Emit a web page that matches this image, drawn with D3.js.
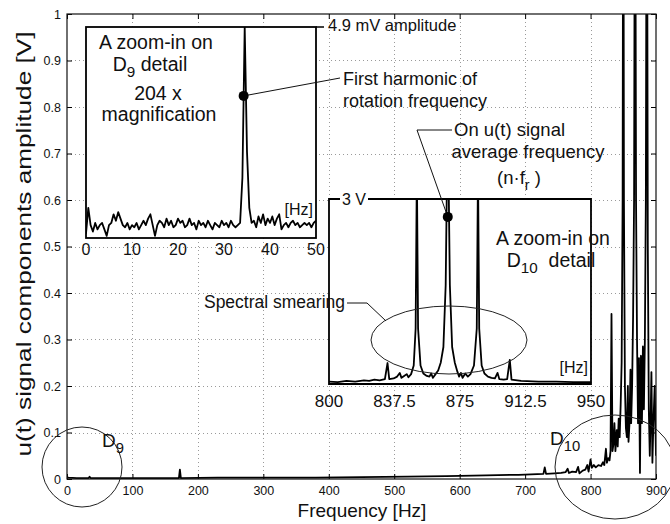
<!DOCTYPE html>
<html>
<head>
<meta charset="utf-8">
<script src="https://cdn.jsdelivr.net/npm/d3@7"></script>
<style>
  body { margin: 0; background: #fff; }
  svg { display: block; font-family: "Liberation Sans", Arial, Helvetica, sans-serif; }
  text { fill: #111; white-space: pre; }
</style>
</head>
<body>
<svg id="chart" width="670" height="524"></svg>
<script>
// ---------- main spectrum: 0 … 900 Hz ----------
const xTicks = [0, 100, 200, 300, 400, 500, 600, 700, 800, 900];
const xTickLabels = ["0", "100", "200", "300", "400", "500", "600", "700", "800", "900"];
const yTicks = [0, 0.1, 0.2, 0.3, 0.4, 0.5, 0.6, 0.7, 0.8, 0.9, 1];
const yTickLabels = ["0", "0.1", "0.2", "0.3", "0.4", "0.5", "0.6", "0.7", "0.8", "0.9", "1"];

const mainFreq = [0, 2, 15, 33, 34.5, 36, 60, 120, 171, 172.5, 174, 230, 300, 380, 450, 520, 580, 640, 690,
  728, 730, 732, 745, 755, 762, 765, 767, 772, 778, 781, 783, 788, 792, 795, 797, 800, 802, 805, 808, 812,
  816, 819, 821, 823.5, 825, 827, 829, 830.5, 832, 833.5, 835, 836.5, 838, 840, 841.5, 843, 844.5, 846,
  847.5, 849, 850, 851, 852.5, 854, 855.5, 857, 858, 859.5, 861, 862, 863.5, 865, 866.5, 868, 869.5, 871,
  872.5, 874, 875.5, 877, 878.5, 880, 881.5, 883, 884.5, 886, 887.5, 889, 890.5, 892, 893, 894.5, 896, 898, 900];
const mainAmp = [0.004, 0.003, 0.002, 0.002, 0.0049, 0.002, 0.002, 0.002, 0.002, 0.02, 0.002, 0.003, 0.003, 0.003,
  0.004, 0.005, 0.006, 0.008, 0.009, 0.011, 0.025, 0.011, 0.012, 0.013, 0.015, 0.022, 0.013, 0.016, 0.015,
  0.026, 0.012, 0.018, 0.02, 0.03, 0.016, 0.042, 0.024, 0.03, 0.025, 0.03, 0.028, 0.036, 0.03, 0.065, 0.035,
  0.045, 0.04, 0.06, 0.355, 0.06, 0.075, 0.12, 0.06, 0.105, 0.07, 0.13, 0.09, 0.16, 0.25, 0.6, 1.6, 0.6, 0.2,
  0.11, 0.09, 0.2, 0.08, 0.12, 0.235, 0.12, 0.2, 0.35, 0.6, 1.6, 0.6, 0.3, 0.12, 0.26, 0.013, 0.265, 0.12,
  0.285, 0.15, 0.3, 0.6, 1.6, 0.5, 0.15, 0.05, 0.15, 0.23, 0.035, 0.12, 0.2, 0.05];

// ---------- D9 detail: 0 … 50 Hz, amplitude in mV ----------
const d9Ticks = [0, 10, 20, 30, 40, 50];
const d9Freq = [0, 0.5, 1, 1.5, 2, 2.5, 3, 3.5, 4, 4.5, 5, 5.5, 6, 6.5, 7, 7.5, 8, 8.5, 9, 9.5,
  10, 10.5, 11, 11.5, 12, 12.5, 13, 13.5, 14, 14.5, 15, 15.5, 16, 16.5, 17, 17.5, 18, 18.5, 19, 19.5,
  20, 20.5, 21, 21.5, 22, 22.5, 23, 23.5, 24, 24.5, 25, 25.5, 26, 26.5, 27, 27.5, 28, 28.5, 29, 29.5,
  30, 30.5, 31, 31.5, 32, 32.5, 33, 33.5, 34, 34.5, 35, 35.5, 36, 36.5, 37, 37.5, 38, 38.5, 39, 39.5,
  40, 40.5, 41, 41.5, 42, 42.5, 43, 43.5, 44, 44.5, 45, 45.5, 46, 46.5, 47, 47.5, 48, 48.5, 49, 49.5, 50];
const d9Amp = [0.1, 0.7, 0.3, 0.15, 0.35, 0.2, 0.3, 0.35, 0.2, 0.05, 0.3, 0.35, 0.55, 0.4, 0.6, 0.45, 0.3, 0.25, 0.35, 0.2,
  0.3, 0.25, 0.35, 0.2, 0.3, 0.4, 0.3, 0.45, 0.55, 0.3, 0.05, 0.3, 0.4, 0.35, 0.25, 0.45, 0.3, 0.4, 0.25, 0.3,
  0.45, 0.35, 0.4, 0.25, 0.3, 0.45, 0.3, 0.35, 0.2, 0.4, 0.3, 0.35, 0.25, 0.4, 0.3, 0.2, 0.35, 0.3, 0.25, 0.4,
  0.3, 0.35, 0.25, 0.4, 0.3, 0.25, 0.3, 0.35, 1.4, 4.9, 2.0, 0.7, 0.35, 0.4, 0.25, 0.5, 0.35, 0.55, 0.3, 0.45,
  0.35, 0.5, 0.3, 0.45, 0.55, 0.2, 0.3, 0.35, 0.25, 0.35, 0.4, 0.3, 0.35, 0.25, 0.3, 0.35, 0.3, 0.35, 0.25, 0.35, 0.4];
const d9Top = 4.9;            // mV, top of the magnified window
const d9Marker = [34.27, 3.3]; // first harmonic of rotation frequency

// ---------- D10 detail: 800 … 950 Hz, amplitude in V ----------
const d10Ticks = [800, 837.5, 875, 912.5, 950];
const d10TickLabels = ["800", "837.5", "875", "912.5", "950"];
const d10Freq = [800, 805, 810, 815, 820, 823, 826, 829, 832, 833.5, 834.5, 837, 839, 840.5, 841.5, 843, 844.5,
  845.5, 847, 848.5, 849.6, 850.3, 851, 852.4, 854, 856, 857.5, 858.5, 859.5, 861, 862.5, 864, 865.5, 866.8,
  867.6, 868.4, 869.2, 870.5, 872, 873.5, 874.5, 875.5, 876.5, 878, 879.5, 881, 883, 884.6, 885.3, 886, 887.4,
  889, 891, 893, 895, 896.5, 897.5, 900, 902, 903.5, 904.5, 910, 920, 930, 940, 950];
const d10Amp = [0.04, 0.03, 0.05, 0.04, 0.06, 0.05, 0.07, 0.06, 0.08, 0.34, 0.08, 0.09, 0.12, 0.18, 0.1, 0.13, 0.16,
  0.11, 0.16, 0.3, 0.9, 3.5, 0.9, 0.3, 0.17, 0.13, 0.12, 0.17, 0.1, 0.16, 0.22, 0.35, 0.6, 1.6,
  3.5, 3.5, 1.6, 0.6, 0.35, 0.2, 0.12, 0.18, 0.1, 0.17, 0.12, 0.16, 0.3, 0.9, 3.5, 0.9, 0.3,
  0.17, 0.12, 0.1, 0.09, 0.18, 0.08, 0.07, 0.08, 0.39, 0.07, 0.05, 0.04, 0.04, 0.03, 0.03];
const d10Top = 3;              // V, top of the D10 window
const d10Marker = [868, 2.71]; // average frequency n·fr

const svg = d3.select("#chart");

// ---------- scales ----------
const x = d3.scaleLinear([0, 900], [67, 656]);
const y = d3.scaleLinear([0, 1], [479, 14]);

// ---------- grid ----------
const grid = svg.append("g").attr("stroke", "#9a9a9a").attr("stroke-width", 1).attr("stroke-dasharray", "1,3");
grid.selectAll("line.gx").data(xTicks.slice(1, -1)).join("line")
  .attr("x1", d => Math.round(x(d)) + 0.5).attr("x2", d => Math.round(x(d)) + 0.5)
  .attr("y1", y(0)).attr("y2", y(1));
grid.selectAll("line.gy").data(yTicks.slice(1, -1)).join("line")
  .attr("y1", d => Math.round(y(d)) + 0.5).attr("y2", d => Math.round(y(d)) + 0.5)
  .attr("x1", x(0)).attr("x2", x(900));

// ---------- main spectrum ----------
svg.append("clipPath").attr("id", "clipMain").append("rect")
  .attr("x", x(0)).attr("y", y(1)).attr("width", x(900) - x(0)).attr("height", y(0) - y(1));
const mainPts = mainFreq.map((f, i) => [f, mainAmp[i]]);
svg.append("path").datum(mainPts)
  .attr("clip-path", "url(#clipMain)")
  .attr("fill", "none").attr("stroke", "#000").attr("stroke-width", 1.8).attr("stroke-linejoin", "round")
  .attr("d", d3.line().x(d => x(d[0])).y(d => y(d[1])));

// ---------- axes (ticks point inward) ----------
function styleAxis(g, size) {
  g.select(".domain").remove();
  g.selectAll(".tick line").attr("stroke", "#000");
  g.selectAll("text").attr("font-size", size).attr("font-family", null).attr("fill", "#111");
}
svg.append("g").attr("transform", `translate(0,${y(0)})`)
  .call(d3.axisBottom(x).tickValues(xTicks).tickFormat((d, i) => xTickLabels[i]).tickSizeInner(-5).tickSizeOuter(0).tickPadding(7))
  .call(g => styleAxis(g, 12.5));
svg.append("g").attr("transform", `translate(0,${y(1)})`)
  .call(d3.axisTop(x).tickValues(xTicks).tickFormat("").tickSizeInner(-5).tickSizeOuter(0))
  .call(g => styleAxis(g, 12.5));
svg.append("g").attr("transform", `translate(${x(0)},0)`)
  .call(d3.axisLeft(y).tickValues(yTicks).tickFormat((d, i) => yTickLabels[i]).tickSizeInner(-5).tickSizeOuter(0).tickPadding(6))
  .call(g => styleAxis(g, 12.5));
svg.append("g").attr("transform", `translate(${x(900)},0)`)
  .call(d3.axisRight(y).tickValues(yTicks).tickFormat("").tickSizeInner(-5).tickSizeOuter(0))
  .call(g => styleAxis(g, 12.5));
svg.append("rect").attr("x", x(0)).attr("y", y(1)).attr("width", x(900) - x(0)).attr("height", y(0) - y(1))
  .attr("fill", "none").attr("stroke", "#111").attr("stroke-width", 1.2);

// axis titles
svg.append("text").attr("x", 362).attr("y", 517).attr("text-anchor", "middle").attr("font-size", 19)
  .text("Frequency [Hz]");
svg.append("text").attr("transform", "translate(31,244) rotate(-90)").attr("text-anchor", "middle")
  .attr("font-size", 20.5).attr("textLength", 425).attr("lengthAdjust", "spacingAndGlyphs")
  .text("u(t) signal components amplitude [V]");

// ---------- text helper with subscripts ----------
function richText(px, py, parts, size, anchor) {
  const t = svg.append("text").attr("x", px).attr("y", py).attr("font-size", size)
    .attr("text-anchor", anchor || "start");
  let shifted = false;
  parts.forEach(([s, sub]) => {
    const sp = t.append("tspan").text(s);
    if (sub && !shifted) { sp.attr("font-size", size * 0.78).attr("dy", size * 0.3); shifted = true; }
    else if (!sub && shifted) { sp.attr("dy", -size * 0.3); shifted = false; }
    else if (sub) sp.attr("font-size", size * 0.78);
  });
  return t;
}

// ---------- detail markers on the main axes ----------
svg.append("circle").attr("cx", 82).attr("cy", 467).attr("r", 40)
  .attr("fill", "none").attr("stroke", "#222").attr("stroke-width", 1);
richText(102, 447, [["D", false], ["9", true]], 19);
svg.append("ellipse").attr("cx", 615).attr("cy", 467).attr("rx", 60).attr("ry", 52)
  .attr("fill", "none").attr("stroke", "#222").attr("stroke-width", 1);
richText(550, 445, [["D", false], ["10", true]], 19);

// ---------- inset: D9 detail ----------
const xi9 = d3.scaleLinear([0, 50], [86, 316]);
const yi9 = d3.scaleLinear([0, d9Top], [238, 27]);
svg.append("rect").attr("x", 86).attr("y", 27).attr("width", 230).attr("height", 211)
  .attr("fill", "#fff").attr("stroke", "#000").attr("stroke-width", 1.8);
svg.append("line").attr("x1", 316).attr("x2", 324).attr("y1", 27).attr("y2", 27)
  .attr("stroke", "#000").attr("stroke-width", 1.5);
svg.append("clipPath").attr("id", "clip9").append("rect").attr("x", 86).attr("y", 27).attr("width", 230).attr("height", 211);
svg.append("path").datum(d9Freq.map((f, i) => [f, d9Amp[i]]))
  .attr("clip-path", "url(#clip9)")
  .attr("fill", "none").attr("stroke", "#000").attr("stroke-width", 1.8).attr("stroke-linejoin", "round")
  .attr("d", d3.line().x(d => xi9(d[0])).y(d => yi9(d[1])));
svg.append("g").selectAll("text").data(d9Ticks).join("text")
  .attr("x", d => xi9(d)).attr("y", 255).attr("text-anchor", "middle").attr("font-size", 16).text(d => d);
svg.append("text").attr("x", 313).attr("y", 215).attr("text-anchor", "end").attr("font-size", 16).text("[Hz]");
svg.append("text").attr("x", 156).attr("y", 49).attr("text-anchor", "middle").attr("font-size", 19.5).text("A zoom-in on");
richText(150, 71, [["D", false], ["9", true], [" detail", false]], 19.5, "middle");
svg.append("text").attr("x", 158).attr("y", 100).attr("text-anchor", "middle").attr("font-size", 19.5).text("204 x");
svg.append("text").attr("x", 159).attr("y", 121).attr("text-anchor", "middle").attr("font-size", 19.5).text("magnification");
svg.append("text").attr("x", 328).attr("y", 31).attr("font-size", 16.5).text("4.9 mV amplitude");

// first harmonic marker and leader
svg.append("line").attr("x1", xi9(d9Marker[0])).attr("y1", yi9(d9Marker[1])).attr("x2", 340).attr("y2", 78)
  .attr("stroke", "#111").attr("stroke-width", 1);
svg.append("circle").attr("cx", xi9(d9Marker[0])).attr("cy", yi9(d9Marker[1])).attr("r", 5).attr("fill", "#000");
svg.append("text").attr("x", 343).attr("y", 85).attr("font-size", 18).text("First harmonic of");
svg.append("text").attr("x", 343).attr("y", 107).attr("font-size", 18).text("rotation frequency");

// ---------- inset: D10 detail ----------
const xi10 = d3.scaleLinear([800, 950], [329, 591]);
const yi10 = d3.scaleLinear([0, d10Top], [384, 199]);
svg.append("rect").attr("x", 329).attr("y", 199).attr("width", 262).attr("height", 185).attr("fill", "#fff");
svg.append("clipPath").attr("id", "clip10").append("rect").attr("x", 329).attr("y", 199).attr("width", 262).attr("height", 185);
svg.append("path").datum(d10Freq.map((f, i) => [f, d10Amp[i]]))
  .attr("clip-path", "url(#clip10)")
  .attr("fill", "none").attr("stroke", "#000").attr("stroke-width", 1.8).attr("stroke-linejoin", "round")
  .attr("d", d3.line().x(d => xi10(d[0])).y(d => yi10(d[1])));
const frame10 = svg.append("g").attr("stroke", "#000").attr("stroke-width", 1.8).attr("fill", "none");
frame10.append("path").attr("d", "M340,199 H329 V384 H591 V199 H368");
svg.append("text").attr("x", 342).attr("y", 205).attr("font-size", 16).text("3 V");
svg.append("g").selectAll("text").data(d10Ticks).join("text")
  .attr("x", d => xi10(d)).attr("y", 407).attr("text-anchor", "middle").attr("font-size", 17)
  .text((d, i) => d10TickLabels[i]);
svg.append("text").attr("x", 588).attr("y", 373).attr("text-anchor", "end").attr("font-size", 16).text("[Hz]");
svg.append("text").attr("x", 553).attr("y", 245).attr("text-anchor", "middle").attr("font-size", 19.5).text("A zoom-in on");
richText(551, 267, [["D", false], ["10", true], ["  detail", false]], 19.5, "middle");

// spectral smearing region
svg.append("ellipse").attr("cx", 449).attr("cy", 340).attr("rx", 78).attr("ry", 34)
  .attr("fill", "none").attr("stroke", "#222").attr("stroke-width", 1);
svg.append("text").attr("x", 345).attr("y", 308).attr("text-anchor", "end").attr("font-size", 17.5).text("Spectral smearing");
svg.append("path").attr("d", "M347,303 H367 L386,321").attr("fill", "none").attr("stroke", "#111").attr("stroke-width", 1);

// average frequency marker and leader
svg.append("path").attr("d", `M452,130 H417 L${xi10(d10Marker[0])},${yi10(d10Marker[1])}`)
  .attr("fill", "none").attr("stroke", "#111").attr("stroke-width", 1);
svg.append("circle").attr("cx", xi10(d10Marker[0])).attr("cy", yi10(d10Marker[1])).attr("r", 5).attr("fill", "#000");
svg.append("text").attr("x", 454).attr("y", 136).attr("font-size", 18.5).text("On u(t) signal");
svg.append("text").attr("x", 528).attr("y", 158).attr("text-anchor", "middle").attr("font-size", 18.5).text("average frequency");
richText(519, 184, [["(n·f", false], ["r", true], [" )", false]], 18.5, "middle");
</script>
</body>
</html>
